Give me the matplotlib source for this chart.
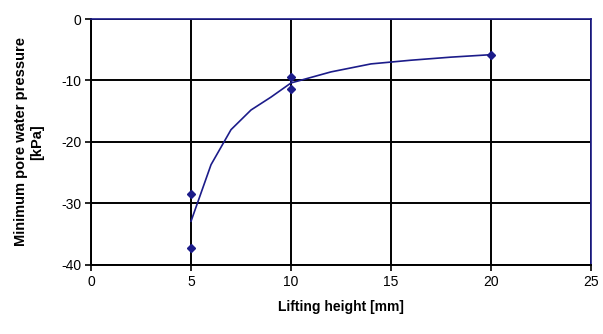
import matplotlib
matplotlib.use('Agg')
import matplotlib.pyplot as plt

# measured points
lift_h = [5, 5, 10, 10, 20]
min_pwp = [-28.5, -37.2, -9.5, -11.4, -5.8]

# trend curve
curve_x = [5, 6, 7, 8, 9, 10, 12, 14, 16, 18, 20]
curve_y = [-32.9, -23.7, -18.0, -14.8, -12.7, -10.4, -8.6, -7.3, -6.7, -6.2, -5.8]

xticks = [0, 5, 10, 15, 20, 25]
yticks = [0, -10, -20, -30, -40]

plt.rcParams['font.family'] = ['Liberation Sans', 'DejaVu Sans']
plt.rcParams['axes.unicode_minus'] = False

fig = plt.figure(figsize=(6.03, 3.34), dpi=100)
ax = fig.add_axes([0.151, 0.207, 0.829, 0.736])

navy = '#1c1c8a'
ax.plot(curve_x, curve_y, color=navy, lw=1.2, zorder=3)
ax.plot(lift_h, min_pwp, ls='none', marker='D', ms=4.5, color=navy, zorder=4)

ax.set_xlim(0, 25)
ax.set_ylim(-40, 0)
ax.set_xticks(xticks)
ax.set_yticks(yticks)
ax.grid(True, color='black', lw=1.4)
ax.set_axisbelow(True)

for s in ['left', 'bottom']:
    ax.spines[s].set_color('black')
    ax.spines[s].set_linewidth(1.4)
for s in ['top', 'right']:
    ax.spines[s].set_color(navy)
    ax.spines[s].set_linewidth(1.2)

ax.tick_params(direction='out', length=4, width=1.2, labelsize=10, pad=3)
ax.set_xlabel('Lifting height [mm]', fontsize=10, fontweight='bold', labelpad=8)
ax.set_ylabel('Minimum pore water pressure\n[kPa]', fontsize=10.5, fontweight='bold', labelpad=12)

fig.savefig('out.png', dpi=100)
